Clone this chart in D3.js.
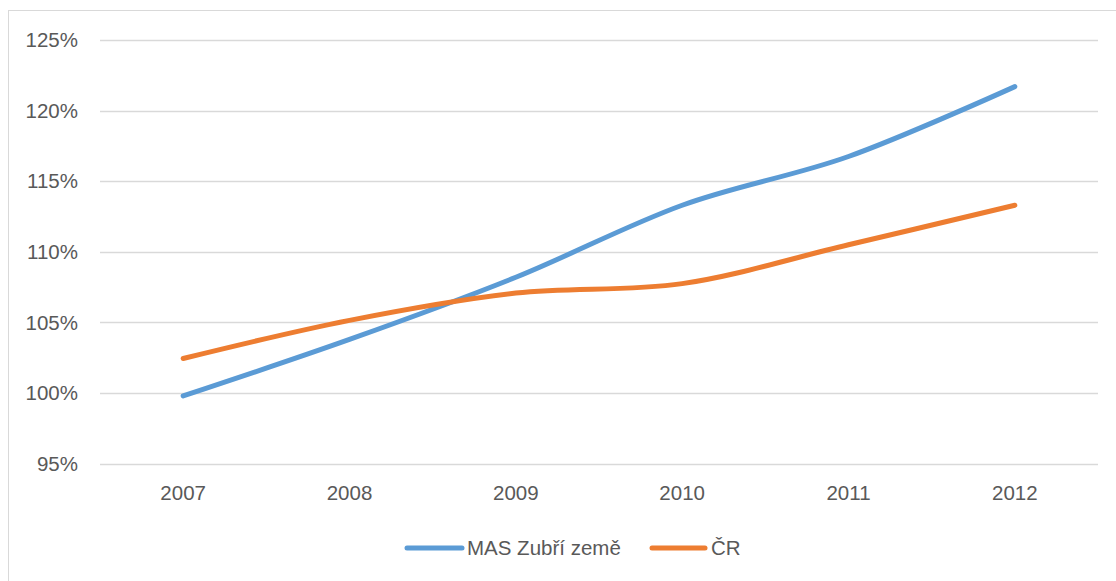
<!DOCTYPE html>
<html><head><meta charset="utf-8">
<script src="https://cdn.jsdelivr.net/npm/d3@7"></script>
<style>body{margin:0;background:#fff;} svg{display:block;}</style>
</head><body>
<svg id="c" width="1116" height="581"></svg>
<script>
const years = ["2007","2008","2009","2010","2011","2012"];
const masValues = [99.8, 103.8, 108.2, 113.3, 116.75, 121.7];
const crValues = [102.45, 105.15, 107.08, 107.75, 110.5, 113.3];
const yTicks = [95,100,105,110,115,120,125];
const seriesNames = ["MAS Zubří země","ČR"];
const colors = ["#5B9BD5","#ED7D31"];

const svg = d3.select("#c");
const font = "'Liberation Sans', Arial, sans-serif";
const txt = "#595959";

svg.append("rect").attr("x",8.5).attr("y",10.5).attr("width",1120).attr("height",600)
  .attr("fill","#fff").attr("stroke","#d9d9d9").attr("stroke-width",1);

const x = d3.scaleBand().domain(years).range([100,1098]);
const y = d3.scaleLinear().domain([95,125]).range([463.7,40]);

const grid = svg.append("g");
grid.selectAll("line").data(yTicks).join("line")
  .attr("x1",100).attr("x2",1098)
  .attr("y1",d=>Math.round(y(d))+0.5).attr("y2",d=>Math.round(y(d))+0.5)
  .attr("stroke","#d9d9d9").attr("stroke-width",1.3);

const yAxis = svg.append("g").attr("transform","translate(100,0)")
  .call(d3.axisLeft(y).tickValues(yTicks).tickFormat(d=>d+"%").tickSize(0).tickPadding(22));
yAxis.select(".domain").remove();
yAxis.selectAll("text").attr("font-family",font).attr("font-size",20.5).attr("fill",txt);

const xAxis = svg.append("g").attr("transform","translate(0,463.7)")
  .call(d3.axisBottom(x).tickSize(0).tickPadding(22));
xAxis.select(".domain").remove();
xAxis.selectAll("text").attr("font-family",font).attr("font-size",20.5).attr("fill",txt);

const line = d3.line().x((d,i)=>x(years[i])+x.bandwidth()/2).y(d=>y(d))
  .curve(d3.curveCardinal.tension(0));

[masValues, crValues].forEach((vals,i)=>{
  svg.append("path").datum(vals).attr("d",line).attr("fill","none")
    .attr("stroke",colors[i]).attr("stroke-width",5).attr("stroke-linecap","round");
});

// legend
const leg = svg.append("g");
const legItems = [{x1:407,x2:462,tx:467},{x1:652,x2:705,tx:711}];
seriesNames.forEach((n,i)=>{
  const it = legItems[i];
  leg.append("line").attr("x1",it.x1).attr("x2",it.x2).attr("y1",548).attr("y2",548)
    .attr("stroke",colors[i]).attr("stroke-width",5).attr("stroke-linecap","round");
  leg.append("text").attr("x",it.tx).attr("y",548).attr("dy","0.35em")
    .attr("font-family",font).attr("font-size",20.5).attr("fill",txt).text(n);
});
</script>
</body></html>
